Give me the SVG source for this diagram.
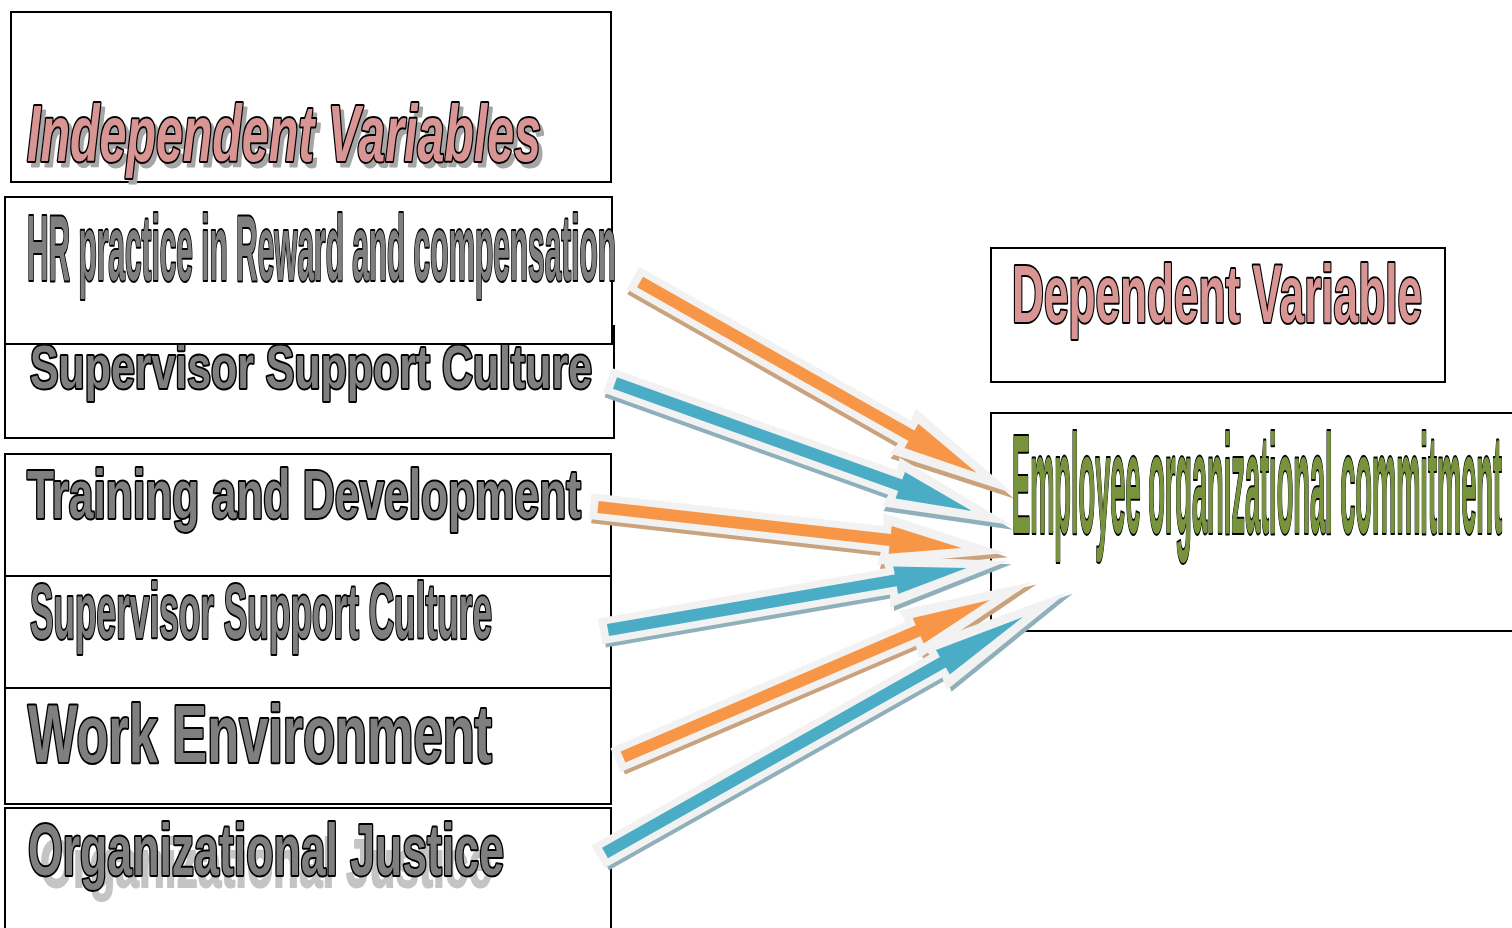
<svg xmlns="http://www.w3.org/2000/svg" width="1512" height="928" viewBox="0 0 1512 928">
  <style>
    .box { fill: #ffffff; stroke: #000000; stroke-width: 2; }
    .lbl { font-family: "Liberation Sans", Arial, sans-serif; font-weight: bold; stroke: #000000; stroke-width: 4; stroke-linejoin: round; paint-order: stroke; fill: #7f7f7f; }
    .pink { fill: #d99594; }
    .green { fill: #77933c; }
    .shade { font-family: "Liberation Sans", Arial, sans-serif; font-weight: bold; fill: #a6a6a6; stroke: #a6a6a6; stroke-width: 3; stroke-linejoin: round; }
    .shade-light { fill: #c4c4c4; stroke: #c4c4c4; stroke-width: 2; }
    .halo { fill: #f2f2f2; }
    .sh-o { fill: #c9a27e; }
    .sh-b { fill: #8fb0bb; }
    .f-o { fill: #f79646; }
    .f-b { fill: #4bacc6; }
  </style>

  <rect width="1512" height="928" fill="#ffffff"/>

  <!-- independent variables heading -->
  <g id="independent-heading">
    <rect class="box" x="11" y="12" width="600" height="170"/>
    <text class="shade" x="31" y="166" font-size="80" font-style="italic" textLength="514" lengthAdjust="spacingAndGlyphs">Independent Variables</text>
    <text class="lbl pink" x="27" y="161" font-size="80" font-style="italic" textLength="514" lengthAdjust="spacingAndGlyphs">Independent Variables</text>
  </g>

  <g id="supervisor-support-1">
    <rect class="box" x="5" y="326" width="609" height="112"/>
    <text class="lbl" x="30" y="388" font-size="62" textLength="562" lengthAdjust="spacingAndGlyphs">Supervisor Support Culture</text>
  </g>

  <g id="hr-reward">
    <rect class="box" x="5" y="197" width="607" height="147"/>
    <text class="lbl" x="27" y="280" font-size="93" textLength="589" lengthAdjust="spacingAndGlyphs">HR practice in Reward and compensation</text>
  </g>

  <g id="training">
    <rect class="box" x="5" y="454" width="606" height="122"/>
    <text class="lbl" x="27" y="518" font-size="68" textLength="554" lengthAdjust="spacingAndGlyphs">Training and Development</text>
  </g>

  <g id="supervisor-support-2">
    <rect class="box" x="5" y="576" width="606" height="112"/>
    <text class="lbl" x="30" y="638" font-size="77" textLength="462" lengthAdjust="spacingAndGlyphs">Supervisor Support Culture</text>
  </g>

  <g id="work-environment">
    <rect class="box" x="5" y="688" width="606" height="116"/>
    <text class="lbl" x="28" y="762" font-size="82" textLength="464" lengthAdjust="spacingAndGlyphs">Work Environment</text>
  </g>

  <g id="organizational-justice">
    <rect class="box" x="5" y="808" width="606" height="130"/>
    <text class="shade shade-light" x="40" y="887" font-size="68" textLength="452" lengthAdjust="spacingAndGlyphs">Organizational Justice</text>
    <text class="lbl" x="28" y="875" font-size="73" textLength="476" lengthAdjust="spacingAndGlyphs">Organizational Justice</text>
  </g>

  <!-- dependent side frames -->
  <g id="dependent-heading">
    <rect class="box" x="991" y="248" width="454" height="134"/>
    <text class="lbl pink" x="1012" y="322" font-size="82" textLength="410" lengthAdjust="spacingAndGlyphs">Dependent Variable</text>
  </g>

  <g id="commitment-frame">
    <rect class="box" x="991" y="413" width="540" height="218"/>
  </g>

  <!-- block arrows: shadow, light halo, coloured body -->
  <g id="connectors">
    <g transform="translate(640,282) rotate(29.54)">
      <polygon class="sh-o" transform="translate(3,4)" points="-8,-13 304,-13 302,-26 429,0 302,26 304,13 -8,13"/>
      <polygon class="halo" points="-8,-13 304,-13 302,-26 429,0 302,26 304,13 -8,13"/>
      <polygon class="f-o" points="0,-6 312,-6 312,-14 387,0 312,14 312,6 0,6"/>
    </g>
    <g transform="translate(615,383) rotate(19.72)">
      <polygon class="sh-b" transform="translate(3,4)" points="-8,-13 295,-13 293,-26 421,0 293,26 295,13 -8,13"/>
      <polygon class="halo" points="-8,-13 295,-13 293,-26 421,0 293,26 295,13 -8,13"/>
      <polygon class="f-b" points="0,-6 303,-6 303,-14 379,0 303,14 303,6 0,6"/>
    </g>
    <g transform="translate(598,507) rotate(6.43)">
      <polygon class="sh-o" transform="translate(3,4)" points="-8,-13 286,-13 284,-26 410,0 284,26 286,13 -8,13"/>
      <polygon class="halo" points="-8,-13 286,-13 284,-26 410,0 284,26 286,13 -8,13"/>
      <polygon class="f-o" points="0,-6 294,-6 294,-14 366,0 294,14 294,6 0,6"/>
    </g>
    <g transform="translate(608,630) rotate(-9.8)">
      <polygon class="sh-b" transform="translate(3,4)" points="-8,-13 284,-13 282,-26 406,0 282,26 284,13 -8,13"/>
      <polygon class="halo" points="-8,-13 284,-13 282,-26 406,0 282,26 284,13 -8,13"/>
      <polygon class="f-b" points="0,-6 292,-6 292,-14 364,0 292,14 292,6 0,6"/>
    </g>
    <g transform="translate(623,757) rotate(-23.16)">
      <polygon class="sh-o" transform="translate(3,4)" points="-8,-13 313,-13 311,-26 445,0 311,26 313,13 -8,13"/>
      <polygon class="halo" points="-8,-13 313,-13 311,-26 445,0 311,26 313,13 -8,13"/>
      <polygon class="f-o" points="0,-6 321,-6 321,-14 399,0 321,14 321,6 0,6"/>
    </g>
    <g transform="translate(605,853) rotate(-29.45)">
      <polygon class="sh-b" transform="translate(3,4)" points="-8,-13 380,-13 378,-26 532,0 378,26 380,13 -8,13"/>
      <polygon class="halo" points="-8,-13 380,-13 378,-26 532,0 378,26 380,13 -8,13"/>
      <polygon class="f-b" points="0,-6 388,-6 388,-14 480,0 388,14 388,6 0,6"/>
    </g>
  </g>

  <g id="employee-commitment">
    <text class="lbl green" x="1012" y="533" font-size="141" textLength="490" lengthAdjust="spacingAndGlyphs">Employee organizational commitment</text>
  </g>
</svg>
